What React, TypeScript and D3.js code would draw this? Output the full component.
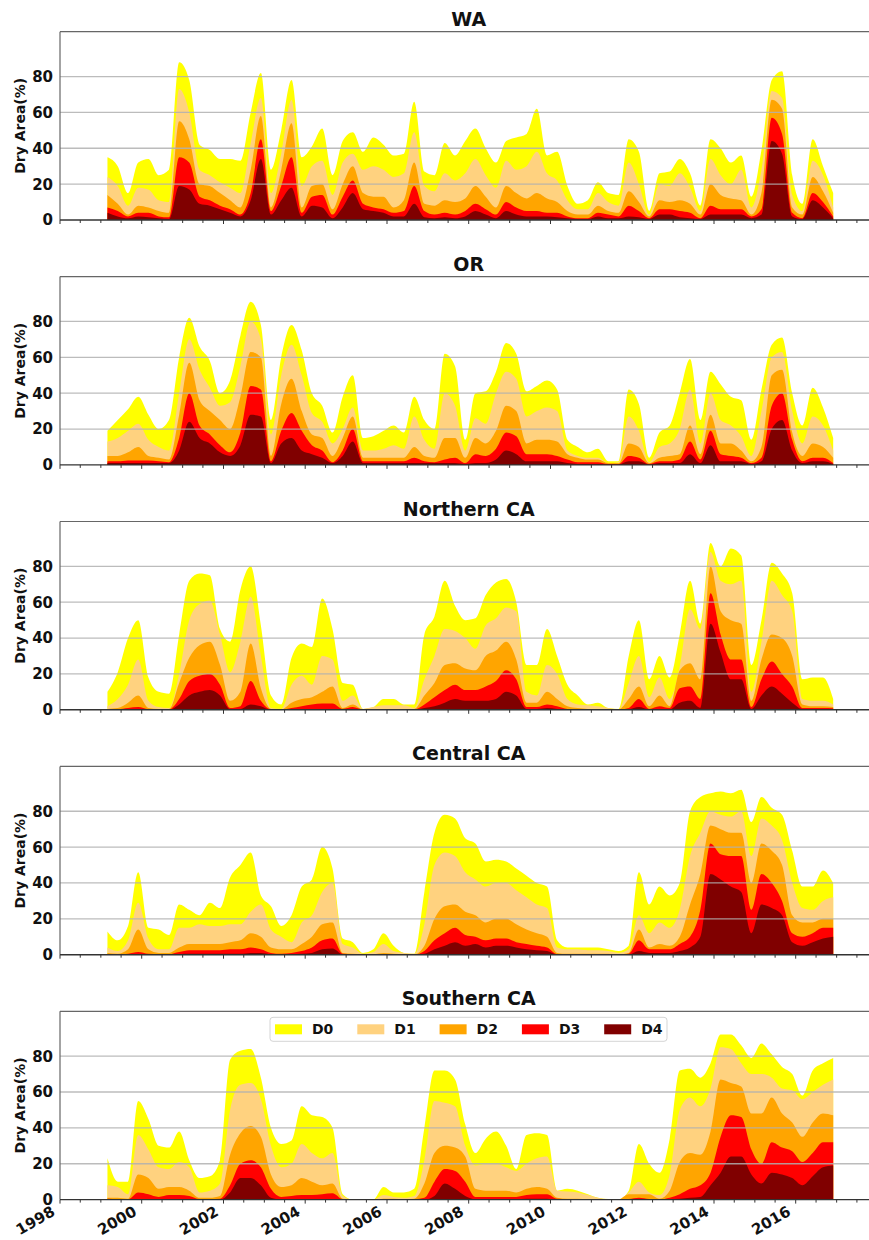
import React from 'react';
import * as d3 from 'd3';

// ---------- data ----------
const REGIONS = ['WA', 'OR', 'Northern CA', 'Central CA', 'Southern CA'];
const CATEGORIES = ['D0', 'D1', 'D2', 'D3', 'D4'];
const COLORS = ['#FFFF00', '#FFD27F', '#FFA500', '#FF0000', '#800000'];
const X_TICK_YEARS = [1998, 2000, 2002, 2004, 2006, 2008, 2010, 2012, 2014, 2016];
const Y_TICKS = [0, 20, 40, 60, 80];
// quarterly samples, March 1999 .. December 2016
const N_SAMPLES = 72;
const DATES = d3.range(N_SAMPLES).map((i) => new Date(1999, 2 + 3 * i, 1));

// cumulative percent area (D0-D4, D1-D4, ..., D4)
const WA_D0 = [35, 30, 15, 32, 34, 25, 28, 88, 78, 42, 39, 34, 34, 33, 60, 82, 28, 50, 78, 35, 41, 51, 25, 44, 49, 38, 46, 42, 36, 37, 66, 27, 25, 43, 36, 44,
  51, 40, 32, 44, 46, 48, 62, 36, 38, 19, 9, 11, 21, 15, 14, 45, 38, 5, 26, 27, 34, 26, 8, 45, 40, 32, 36, 13, 39, 78, 83, 25, 9, 45, 30, 15];
const WA_D1 = [24, 19, 8, 18, 17, 11, 10, 73, 60, 28, 25, 21, 18, 15, 43, 68, 15, 37, 67, 19, 30, 33, 14, 32, 37, 28, 30, 28, 24, 26, 49, 19, 16, 26, 22, 26,
  34, 25, 18, 33, 28, 30, 38, 26, 22, 11, 6, 6, 15, 10, 8, 32, 20, 3, 20, 19, 26, 18, 5, 34, 25, 20, 28, 7, 28, 72, 68, 14, 5, 33, 25, 7];
const WA_D2 = [14, 9, 3, 8, 7, 5, 4, 55, 45, 20, 19, 15, 11, 7, 28, 58, 7, 28, 54, 7, 19, 20, 6, 20, 30, 15, 13, 13, 7, 11, 32, 9, 8, 11, 10, 12,
  19, 13, 7, 19, 15, 12, 15, 12, 10, 5, 3, 3, 8, 5, 4, 16, 10, 2, 11, 10, 11, 9, 3, 20, 14, 12, 11, 3, 15, 67, 62, 7, 3, 24, 16, 4];
const WA_D3 = [7, 5, 2, 4, 4, 2, 1.5, 35, 32, 13, 11, 8, 6, 3, 15, 45, 5, 19, 35, 4, 13, 14, 3, 13, 22, 9, 7, 6, 4, 5, 19, 5, 3, 4, 3, 5,
  9, 6, 3, 10, 7, 5, 5, 4, 4, 2, 1, 1, 4, 3, 2, 8, 5, 1, 6, 6, 5, 4, 1, 8, 6, 6, 6, 2, 6, 57, 48, 4, 1, 15, 10, 2];
const WA_D4 = [4, 2, 1, 2, 1.5, 1, 0.5, 19, 17, 9, 8, 6, 4, 2, 11, 34, 3, 11, 18, 2, 8, 7, 1, 7, 15, 6, 5, 4, 2, 2, 9, 1.5, 1, 1.5, 1, 2,
  5, 3, 1, 5, 3, 2, 2, 2, 1.5, 1, 0.5, 0.5, 2, 1, 1, 2, 1.5, 0.5, 3, 3, 1.5, 1, 0.5, 3, 3, 3, 3, 1, 3, 44, 37, 2, 0.5, 11, 7, 1];

const OR_D0 = [19, 25, 31, 38, 28, 20, 25, 60, 82, 66, 58, 40, 47, 72, 91, 78, 25, 60, 78, 64, 40, 33, 18, 38, 50, 15, 16, 19, 22, 18, 38, 25, 20, 62, 55, 14,
  40, 41, 52, 68, 62, 41, 44, 47, 42, 14, 10, 7, 9, 2, 2, 42, 34, 4, 18, 22, 40, 59, 25, 52, 45, 38, 36, 14, 42, 67, 71, 40, 22, 43, 32, 15];
const OR_D1 = [13, 15, 19, 23, 14, 10, 8, 40, 70, 53, 43, 33, 35, 55, 80, 70, 17, 50, 67, 50, 29, 24, 12, 20, 32, 8, 8, 9, 11, 9, 27, 14, 9, 40, 33, 8,
  26, 23, 40, 52, 48, 27, 30, 32, 30, 8, 5, 4, 4, 1, 1.5, 27, 19, 1.5, 10, 12, 20, 42, 12, 40, 25, 22, 16, 5, 30, 60, 63, 30, 12, 27, 22, 8];
const OR_D2 = [5, 5, 7, 10, 5, 4, 3, 28, 57, 36, 30, 25, 20, 38, 63, 60, 5, 34, 48, 30, 17, 15, 5, 15, 27, 4, 4, 4, 4, 4, 10, 5, 4, 15, 15, 4,
  15, 12, 19, 33, 30, 12, 14, 14, 13, 6, 4, 3, 3, 1, 1, 12, 10, 1, 4, 5, 6, 22, 6, 28, 12, 12, 8, 2, 10, 50, 53, 18, 5, 12, 10, 4];
const OR_D3 = [2, 2, 2.5, 2.5, 2.5, 2, 1.5, 15, 40, 22, 17, 11, 7, 18, 44, 42, 2, 19, 29, 19, 11, 8, 1.5, 8, 20, 2, 2, 2, 2, 2, 4, 2, 1.5, 3, 4, 1,
  6, 5, 9, 18, 16, 6, 6, 6, 5, 3, 1.5, 1.5, 1.5, 0.5, 0.5, 5, 4, 0.5, 2, 2, 3, 13, 3, 19, 6, 5, 4, 1, 4, 33, 40, 14, 2, 4, 4, 1];
const OR_D4 = [1, 1, 1, 1, 1, 1, 1, 8, 24, 15, 12, 7, 5, 11, 28, 27, 1, 12, 15, 8, 6, 4, 1, 5, 13, 1, 1, 1, 1, 1, 1, 1, 1, 1, 1, 0.5,
  1, 1, 3, 8, 6, 2, 2, 2, 2, 1, 0.5, 0.5, 0.5, 0.2, 0.2, 2, 2, 0.2, 1, 1, 1, 6, 1, 11, 2, 2, 2, 0.5, 2, 20, 25, 8, 1, 2, 2, 0.5];

const NCA_D0 = [10, 21, 40, 50, 18, 10, 9, 42, 72, 76, 75, 45, 38, 67, 80, 47, 8, 3, 29, 37, 35, 62, 45, 15, 14, 0.5, 1.5, 6, 6, 3, 3, 42, 52, 72, 58, 50,
  51, 64, 71, 73, 60, 25, 25, 45, 30, 14, 8, 3, 4, 1, 0.5, 30, 50, 17, 30, 18, 42, 72, 48, 93, 80, 90, 86, 25, 50, 82, 76, 65, 17, 18, 18, 6];
const NCA_D1 = [2, 6, 14, 28, 5, 1.5, 1, 20, 50, 59, 61, 42, 21, 38, 63, 30, 1, 0.5, 14, 19, 14, 30, 28, 5, 8, 0.5, 1.5, 2.5, 2.5, 2.5, 1, 17, 30, 45, 44, 40,
  34, 47, 51, 57, 55, 10, 8, 25, 20, 6, 3, 2.5, 2, 1, 0.3, 15, 30, 7, 18, 6, 24, 56, 45, 88, 72, 70, 72, 10, 38, 72, 64, 55, 6, 5, 5, 3];
const NCA_D2 = [0.5, 1, 4, 8, 1, 0.5, 0.5, 15, 29, 36, 38, 25, 5, 10, 37, 12, 0.5, 0.2, 4, 6, 7, 10, 13, 1, 3, 0.2, 0.5, 0.5, 0.5, 0.5, 0.5, 8, 15, 25, 26, 23,
  22, 30, 33, 38, 28, 4, 4, 10, 6, 2, 1, 0.5, 0.5, 0.3, 0.2, 6, 13, 2, 8, 2, 22, 26, 17, 80, 55, 50, 48, 5, 28, 42, 40, 30, 3, 2, 2, 1.5];
const NCA_D3 = [0.3, 0.3, 1, 1.5, 0.3, 0.2, 0.2, 6, 16, 19, 20, 14, 1, 2, 16, 5, 0.2, 0.1, 1, 2, 3, 3.5, 3.5, 0.5, 1.5, 0.1, 0.2, 0.2, 0.2, 0.2, 0.2, 3, 7, 11, 14, 11,
  11, 13, 16, 22, 17, 1.5, 1.5, 3, 2, 0.5, 0.3, 0.2, 0.2, 0.1, 0.1, 1, 6, 0.5, 2, 1, 12, 13, 6, 65, 42, 28, 28, 1.5, 17, 27, 20, 13, 1, 1, 1, 0.8];
const NCA_D4 = [0, 0, 0.2, 0.3, 0, 0, 0, 3, 8, 10, 11, 8, 0.3, 0.5, 3, 2, 0, 0, 0.2, 0.3, 0.3, 0.5, 0.5, 0, 0, 0, 0, 0, 0, 0, 0, 1, 2, 4, 6, 5,
  5, 5, 6, 10, 8, 0.5, 0.5, 1, 0.5, 0.2, 0, 0, 0, 0, 0, 0.3, 1.5, 0.2, 0.5, 0.3, 4, 5, 1, 48, 32, 17, 17, 0.5, 8, 13, 9, 4, 0.5, 0.5, 0.5, 0.3];

const CCA_D0 = [13, 8, 16, 46, 15, 14, 11, 28, 25, 22, 29, 26, 43, 50, 57, 33, 27, 16, 22, 38, 42, 60, 48, 9, 7, 1, 3, 12, 5, 1, 0.5, 35, 68, 78, 76, 65,
  62, 52, 53, 52, 48, 44, 40, 38, 8, 4, 4, 4, 4, 3, 2, 5, 46, 28, 38, 33, 40, 80, 88, 90, 91, 90, 92, 74, 88, 82, 78, 58, 38, 38, 47, 40];
const CCA_D1 = [4, 2, 8, 29, 9, 3, 3, 15, 15, 17, 16, 16, 17, 17, 24, 28, 14, 10, 7, 18, 22, 35, 40, 6, 4, 0.5, 1.5, 6, 2, 1, 0.5, 17, 50, 57, 55, 46,
  42, 38, 40, 40, 36, 32, 28, 26, 4, 3, 3, 2.5, 2.5, 2, 1, 3, 22, 12, 18, 15, 25, 55, 68, 80, 78, 77, 80, 55, 76, 72, 64, 40, 26, 25, 30, 32];
const CCA_D2 = [1, 0.5, 3, 14, 3, 1, 1, 4, 6, 6, 6, 6, 7, 8, 12, 10, 4, 3, 3, 6, 10, 17, 18, 1, 0.5, 0.2, 0.3, 1, 0.5, 0.2, 0.2, 5, 20, 27, 28, 24,
  22, 18, 20, 20, 17, 14, 12, 10, 1, 0.5, 0.5, 0.5, 0.5, 0.5, 0.3, 1, 14, 4, 6, 5, 10, 28, 45, 72, 70, 68, 68, 40, 62, 58, 50, 22, 18, 18, 20, 20];
const CCA_D3 = [0.3, 0.2, 0.5, 1.5, 0.5, 0.3, 0.3, 1.5, 2.5, 2.5, 2.5, 2.5, 3, 3, 4, 3, 1, 0.5, 1, 2, 4, 8, 9, 0.5, 0.2, 0, 0, 0.2, 0.2, 0, 0, 2, 8, 12, 15, 11,
  10, 8, 9, 9, 7, 6, 5, 4, 0.3, 0.2, 0.2, 0.2, 0.2, 0.2, 0.1, 0.5, 8, 3, 3, 3, 6, 10, 25, 62, 56, 55, 55, 25, 45, 40, 30, 12, 10, 12, 15, 15];
const CCA_D4 = [0, 0, 0, 0.3, 0, 0, 0, 0.3, 0.5, 0.5, 0.5, 0.5, 0.5, 0.5, 1, 1, 0.3, 0.2, 0.2, 0.5, 1, 3, 3.5, 0.2, 0, 0, 0, 0, 0, 0, 0, 0.5, 3, 5, 7, 5,
  6, 4, 5, 5, 4, 3, 2.5, 2, 0.1, 0.1, 0.1, 0, 0, 0, 0, 0, 2, 1, 1, 1, 2, 4, 10, 45, 42, 38, 35, 12, 28, 26, 22, 7, 5, 7, 9, 10];

const SCA_D0 = [23, 10, 10, 55, 45, 30, 29, 38, 22, 12, 13, 22, 78, 83, 84, 68, 40, 31, 33, 52, 47, 46, 40, 3, 0, 0, 0, 7, 4, 4, 6, 40, 72, 72,
  67, 42, 26, 34, 38, 30, 17, 36, 37, 36, 5, 6, 5, 3, 1, 0.3, 0.3, 5, 31, 20, 15, 34, 72, 73, 68, 76, 92, 92, 86, 79, 87, 81, 74, 70, 58, 72, 76, 79];
const SCA_D1 = [8, 7, 3, 36, 28, 18, 17, 21, 18, 4, 5, 9, 50, 64, 65, 56, 30, 18, 20, 31, 26, 23, 26, 2, 0, 0, 0, 2.5, 1.5, 1, 2, 22, 55, 54,
  52, 30, 19, 20, 20, 18, 16, 20, 23, 24, 5, 4.5, 4, 2.5, 1, 0.2, 0.2, 4, 10, 4, 2.5, 14, 50, 57, 52, 62, 85, 84, 76, 70, 70, 68, 62, 61, 56, 60, 64, 67];
const SCA_D2 = [1, 1, 0.5, 14, 12, 6, 7, 7, 5, 1, 1, 2, 25, 37, 41, 35, 14, 7, 8, 12, 10, 8, 9, 0.5, 0, 0, 0, 0.5, 0.5, 0.3, 0.5, 9, 26, 30,
  29, 24, 6, 5, 5, 5, 4, 6, 7, 6, 1, 0.5, 0.5, 0.3, 0.2, 0.1, 0.1, 3, 3, 3, 0.5, 5, 21, 26, 25, 38, 67, 65, 63, 48, 48, 57, 48, 43, 35, 43, 48, 47];
const SCA_D3 = [0.5, 0.3, 0.2, 4, 3, 1.5, 2.5, 2.5, 2, 0.3, 0.3, 0.5, 8, 20, 22, 18, 6, 1.5, 2, 2.5, 2.5, 3, 3.5, 0.2, 0, 0, 0, 0.2, 0.2, 0.1, 0.2, 1, 10, 17,
  16, 10, 1.5, 1.5, 1.5, 1.5, 1.5, 2.5, 3, 3, 0.5, 0.3, 0.2, 0.1, 0, 0, 0, 0.3, 1, 0.3, 0.1, 1, 3, 6, 8, 15, 35, 47, 46, 28, 20, 32, 29, 27, 21, 26, 32, 32];
const SCA_D4 = [0, 0, 0, 0, 0, 0, 0, 0, 0, 0, 0, 0, 4, 12, 12, 8, 1, 0, 0, 0, 0, 0, 0, 0, 0, 0, 0, 0, 0, 0, 0, 0, 2, 9,
  6, 2, 0.2, 0.2, 0.2, 0.2, 0.2, 0.5, 0.5, 0.5, 0, 0, 0, 0, 0, 0, 0, 0, 0.2, 0, 0, 0.2, 0.5, 1, 1.5, 8, 15, 24, 24, 14, 9, 15, 14, 12, 8, 13, 18, 19];

const SERIES = [
  [WA_D0, WA_D1, WA_D2, WA_D3, WA_D4],
  [OR_D0, OR_D1, OR_D2, OR_D3, OR_D4],
  [NCA_D0, NCA_D1, NCA_D2, NCA_D3, NCA_D4],
  [CCA_D0, CCA_D1, CCA_D2, CCA_D3, CCA_D4],
  [SCA_D0, SCA_D1, SCA_D2, SCA_D3, SCA_D4],
];

// ---------- layout ----------
const W = 869;
const H = 1240;
const LEFT = 60;
const RIGHT = 877.5;
const FIRST_ZERO = 220;
const PANEL_STEP = 244.9;
const PANEL_H = 188.3;
const FONT = '"DejaVu Sans", Verdana, sans-serif';

const x = d3.scaleTime()
  .domain([new Date(1998, 0, 1), new Date(2018, 0, 1)])
  .range([LEFT, RIGHT]);

const tickDates = d3.timeMonth.every(6)!.range(new Date(1998, 0, 1), new Date(2018, 0, 2));

function Panel({ idx }: { idx: number }) {
  const zero = FIRST_ZERO + PANEL_STEP * idx;
  const top = zero - PANEL_H;
  const y = d3.scaleLinear().domain([0, 105]).range([zero, top]);
  const series = SERIES[idx];
  const isLast = idx === REGIONS.length - 1;
  const area = (vals: number[]) =>
    d3.area<number>()
      .x((_, i) => x(DATES[i]))
      .y0(zero)
      .y1((v) => y(v))
      .curve(d3.curveMonotoneX)(vals) || '';

  return (
    <g>
      {series.map((vals, k) => (
        <path key={k} d={area(vals)} fill={COLORS[k]} stroke="none" />
      ))}
      {Y_TICKS.filter((t) => t > 0).map((t) => (
        <line key={t} x1={LEFT} x2={RIGHT} y1={y(t)} y2={y(t)} stroke="#b0b0b0" strokeOpacity={0.85} strokeWidth={1.3} />
      ))}
      {/* spines */}
      <line x1={LEFT} x2={RIGHT} y1={top} y2={top} stroke="#666" strokeWidth={1.2} />
      <line x1={LEFT} x2={LEFT} y1={top} y2={zero} stroke="#666" strokeWidth={1.2} />
      <line x1={LEFT} x2={RIGHT} y1={zero} y2={zero} stroke="#333" strokeWidth={1.4} />
      {tickDates.map((d, i) => {
        const major = d.getMonth() === 0 && d.getFullYear() % 2 === 0;
        return (
          <line key={i} x1={x(d)} x2={x(d)} y1={zero} y2={zero + (major ? 4 : 3)} stroke="#333" strokeWidth={1} />
        );
      })}
      {Y_TICKS.map((t) => (
        <text key={t} x={53} y={y(t)} dy="0.36em" textAnchor="end" fontFamily={FONT} fontWeight="bold" fontSize={15} fill="#111">
          {t}
        </text>
      ))}
      <text
        transform={`translate(20,${(top + zero) / 2}) rotate(-90)`}
        textAnchor="middle"
        dy="0.35em"
        fontFamily={FONT}
        fontWeight="bold"
        fontSize={14}
        fill="#111"
      >
        Dry Area(%)
      </text>
      <text x={(LEFT + RIGHT) / 2} y={top - 6} textAnchor="middle" fontFamily={FONT} fontWeight="bold" fontSize={19} fill="#111">
        {REGIONS[idx]}
      </text>
      {isLast &&
        X_TICK_YEARS.map((yr) => {
          const tx = x(new Date(yr, 0, 1)) - 4;
          const ty = zero + 15;
          return (
            <text key={yr} transform={`translate(${tx},${ty}) rotate(-30)`} textAnchor="end" fontFamily={FONT} fontWeight="bold" fontSize={15} fill="#111">
              {yr}
            </text>
          );
        })}
      {isLast && <Legend top={top} />}
    </g>
  );
}

function Legend({ top }: { top: number }) {
  const boxX = 270;
  const boxY = top + 6;
  const step = 82.3;
  return (
    <g>
      <rect x={boxX} y={boxY} width={397} height={24} rx={3} fill="#fff" fillOpacity={0.85} stroke="#d5d5d5" strokeWidth={1} />
      {CATEGORIES.map((c, k) => (
        <g key={c}>
          <rect x={boxX + 5 + step * k} y={boxY + 7} width={27} height={10} fill={COLORS[k]} />
          <text x={boxX + 42 + step * k} y={boxY + 12} dy="0.36em" fontFamily={FONT} fontWeight="bold" fontSize={14} fill="#111">
            {c}
          </text>
        </g>
      ))}
    </g>
  );
}

export default function App() {
  return (
    <svg
      width={W}
      height={H}
      viewBox={`0 0 ${W} ${H}`}
      style={{ position: 'absolute', left: 0, top: 0, background: '#fff' }}
    >
      <rect x={0} y={0} width={W} height={H} fill="#fff" />
      {REGIONS.map((_, i) => (
        <Panel key={i} idx={i} />
      ))}
    </svg>
  );
}
